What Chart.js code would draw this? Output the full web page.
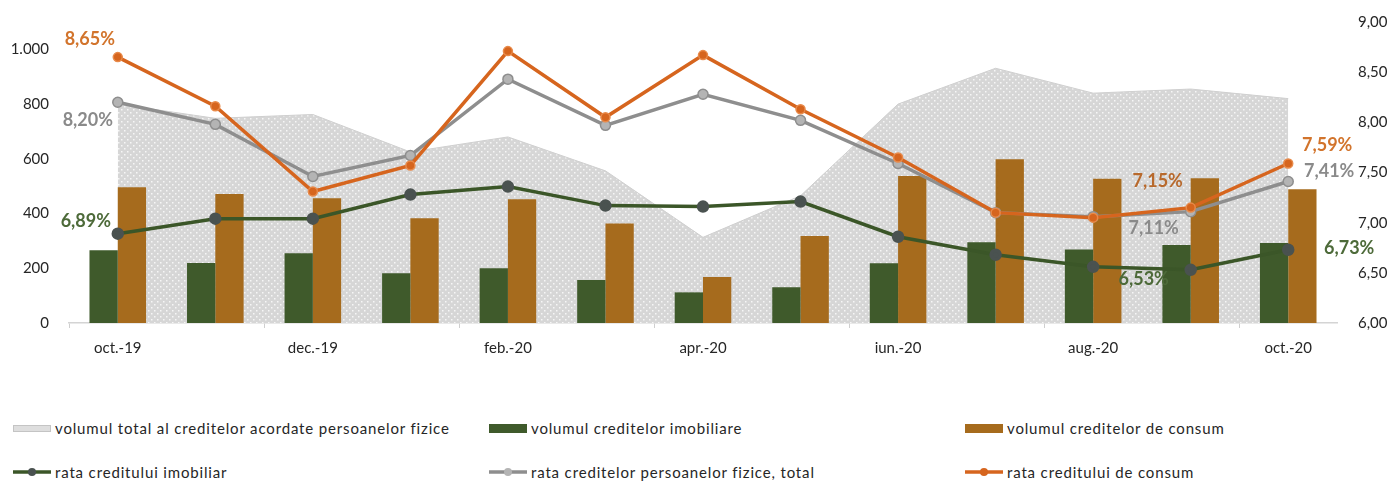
<!DOCTYPE html>
<html>
<head>
<meta charset="utf-8">
<title>Credite persoane fizice</title>
<script src="https://cdn.jsdelivr.net/npm/chart.js"></script>
<style>
  body { margin: 0; background: #fff; font-family: Lato, sans-serif; }
  #wrap { position: relative; width: 1396px; height: 481px; overflow: hidden; }
  #chartBox { position: absolute; left: 0; top: 0; width: 1396px; height: 370px; }
  .leg { position: absolute; height: 20px; font-size: 15px; color: #262626; white-space: nowrap;
         letter-spacing: 0.85px; display: flex; align-items: center; }
  .leg canvas { margin-right: 4px; }
</style>
</head>
<body>
<div id="wrap">
  <div id="chartBox"><canvas id="myChart"></canvas></div>
</div>

<script>
// data
var months = ['oct.-19', 'nov.-19', 'dec.-19', 'ian.-20', 'feb.-20', 'mar.-20', 'apr.-20',
              'mai.-20', 'iun.-20', 'iul.-20', 'aug.-20', 'sep.-20', 'oct.-20'];
var volTotal   = [800, 748, 762, 625, 680, 556, 313, 465, 800, 931, 840, 855, 820];
var volImob    = [266, 219, 255, 182, 200, 157, 112, 131, 218, 295, 269, 285, 292];
var volConsum  = [496, 471, 456, 383, 452, 364, 168, 318, 537, 598, 527, 529, 489];
var rataImob   = [6.89, 7.04, 7.04, 7.28, 7.36, 7.17, 7.16, 7.21, 6.86, 6.68, 6.56, 6.53, 6.73];
var rataTotal  = [8.20, 7.98, 7.46, 7.67, 8.43, 7.97, 8.28, 8.02, 7.59, 7.10, 7.06, 7.11, 7.41];
var rataConsum = [8.65, 8.16, 7.31, 7.57, 8.71, 8.05, 8.67, 8.13, 7.65, 7.10, 7.05, 7.15, 7.59];

var names = ['volumul total al creditelor acordate persoanelor fizice',
             'volumul creditelor imobiliare',
             'volumul creditelor de consum',
             'rata creditului imobiliar',
             'rata creditelor persoanelor fizice, total',
             'rata creditului de consum'];

var GREEN = '#3f5a2b', BROWN = '#a66b1d';
var ORANGE = '#d6651e', GRAY = '#8e8e8e', DKGREEN = '#3b5628';

// dotted grey fill of the area
var pc = document.createElement('canvas');
pc.width = 6; pc.height = 6;
var p = pc.getContext('2d');
p.fillStyle = '#d6d6d6';
p.fillRect(0, 0, 6, 6);
p.fillStyle = '#f6f6f6';
p.fillRect(1, 1, 1.5, 1.5);
p.fillRect(4, 4, 1.5, 1.5);
var areaFill = p.createPattern(pc, 'repeat');

function pct(v) { return v.toFixed(2).replace('.', ',') + '%'; }

// which points carry a label, and where the text sits relative to the point
var labelSpots = [
  { ds: 5, i: 0,  dx: -28, dy: -18, color: '#d2742c' },
  { ds: 4, i: 0,  dx: -30, dy: 18,  color: '#8a8a8a' },
  { ds: 3, i: 0,  dx: -32, dy: -13, color: '#4d6a39' },
  { ds: 5, i: 11, dx: -33, dy: -26, color: '#b8692c' },
  { ds: 4, i: 11, dx: -37, dy: 17,  color: '#8a8a8a' },
  { ds: 3, i: 11, dx: -47, dy: 9,   color: '#4d6a39' },
  { ds: 5, i: 12, dx: 39,  dy: -18, color: '#d2742c' },
  { ds: 4, i: 12, dx: 41,  dy: -10, color: '#8a8a8a' },
  { ds: 3, i: 12, dx: 61,  dy: -2,  color: '#4d6a39' }
];

var pointLabels = {
  id: 'pointLabels',
  afterDatasetsDraw: function(chart) {
    var ctx = chart.ctx;
    ctx.save();
    ctx.font = 'bold 18px Lato';
    ctx.textAlign = 'center';
    ctx.textBaseline = 'middle';
    labelSpots.forEach(function(s) {
      var el = chart.getDatasetMeta(s.ds).data[s.i];
      var v = chart.data.datasets[s.ds].data[s.i];
      ctx.fillStyle = s.color;
      ctx.fillText(pct(v), el.x + s.dx, el.y + s.dy);
    });
    ctx.restore();
  }
};

var ctx = document.getElementById('myChart').getContext('2d');
var myChart = new Chart(ctx, {
  type: 'bar',
  data: {
    labels: months,
    datasets: [
      { type: 'line', label: names[0], data: volTotal, yAxisID: 'y', fill: 'origin',
        backgroundColor: areaFill, borderColor: '#cfcfcf', borderWidth: 1, pointRadius: 0,
        tension: 0, order: 10 },
      { label: names[1], data: volImob, yAxisID: 'y', backgroundColor: GREEN, order: 5 },
      { label: names[2], data: volConsum, yAxisID: 'y', backgroundColor: BROWN, order: 5 },
      { type: 'line', label: names[3], data: rataImob, yAxisID: 'y1', borderColor: DKGREEN,
        borderWidth: 3.5, pointRadius: 4.5, pointBackgroundColor: '#4a5250',
        pointBorderColor: '#4a5250', tension: 0, order: 3 },
      { type: 'line', label: names[4], data: rataTotal, yAxisID: 'y1', borderColor: GRAY,
        borderWidth: 3.5, pointRadius: 5, pointBackgroundColor: '#b4b4b4',
        pointBorderColor: GRAY, pointBorderWidth: 1.5, tension: 0, order: 2 },
      { type: 'line', label: names[5], data: rataConsum, yAxisID: 'y1', borderColor: ORANGE,
        borderWidth: 3.5, pointRadius: 4.5, pointBackgroundColor: ORANGE,
        pointBorderColor: '#e88a4a', pointBorderWidth: 1.5, tension: 0, order: 1 }
    ]
  },
  options: {
    responsive: true,
    maintainAspectRatio: false,
    animation: false,
    layout: { padding: { top: 22, left: 0, right: 0, bottom: 0 } },
    datasets: { bar: { categoryPercentage: 0.58, barPercentage: 1.0 } },
    plugins: { legend: { display: false }, tooltip: { enabled: false } },
    scales: {
      x: {
        offset: true,
        grid: {
          offset: true, drawOnChartArea: false, drawTicks: true, tickLength: 5,
          color: function(c) { return c.index % 2 === 0 ? '#cfcfcf' : 'rgba(0,0,0,0)'; }
        },
        border: { display: true, color: '#d4d4d4', width: 1.5 },
        ticks: {
          autoSkip: false, maxRotation: 0, padding: 11, color: '#262626',
          font: { family: 'Lato', size: 15 },
          callback: function(v, i) { return i % 2 === 0 ? months[i] : ''; }
        },
        afterFit: function(s) { s.height = 47; }
      },
      y: {
        position: 'left', min: 0, max: 1100,
        grid: { display: false }, border: { display: false },
        ticks: {
          stepSize: 200, padding: 12, color: '#262626', font: { family: 'Lato', size: 15 },
          callback: function(v) {
            if (v % 200 !== 0) return '';
            return v >= 1000 ? Math.floor(v / 1000) + '.' + String(v % 1000).padStart(3, '0') : String(v);
          }
        },
        afterFit: function(s) { s.width = 69; }
      },
      y1: {
        position: 'right', min: 6, max: 9,
        grid: { display: false }, border: { display: false },
        ticks: {
          stepSize: 0.5, padding: 13, color: '#262626', font: { family: 'Lato', size: 15 },
          callback: function(v) { return v.toFixed(2).replace('.', ','); }
        },
        afterFit: function(s) { s.width = 59; }
      }
    }
  },
  plugins: [pointLabels]
});

// legend below the chart, three columns by two rows
var legendSpots = [
  { kind: 'area', x: 13,  y: 428 },
  { kind: 'bar',  x: 489, y: 428, color: GREEN },
  { kind: 'bar',  x: 965, y: 428, color: BROWN },
  { kind: 'line', x: 13,  y: 472, color: DKGREEN, dot: '#4a5250' },
  { kind: 'line', x: 489, y: 472, color: GRAY, dot: '#b4b4b4' },
  { kind: 'line', x: 965, y: 472, color: ORANGE, dot: ORANGE }
];
var wrap = document.getElementById('wrap');
legendSpots.forEach(function(l, k) {
  var div = document.createElement('div');
  div.className = 'leg';
  div.style.left = l.x + 'px';
  div.style.top = (l.y - 10) + 'px';
  var sw = document.createElement('canvas');
  sw.width = 38; sw.height = 14;
  var g = sw.getContext('2d');
  if (l.kind === 'area') {
    g.fillStyle = '#dedede'; g.fillRect(0.5, 4.5, 37, 6);
    g.strokeStyle = '#c4c4c4'; g.lineWidth = 1; g.strokeRect(0.5, 4.5, 37, 6);
  } else if (l.kind === 'bar') {
    g.fillStyle = l.color; g.fillRect(0, 3, 38, 9);
  } else {
    g.strokeStyle = l.color; g.lineWidth = 3.5;
    g.beginPath(); g.moveTo(0, 7); g.lineTo(38, 7); g.stroke();
    g.fillStyle = l.dot; g.beginPath(); g.arc(19, 7, 4, 0, Math.PI * 2); g.fill();
  }
  div.appendChild(sw);
  var sp = document.createElement('span');
  sp.textContent = names[k];
  div.appendChild(sp);
  wrap.appendChild(div);
});
</script>
</body>
</html>
